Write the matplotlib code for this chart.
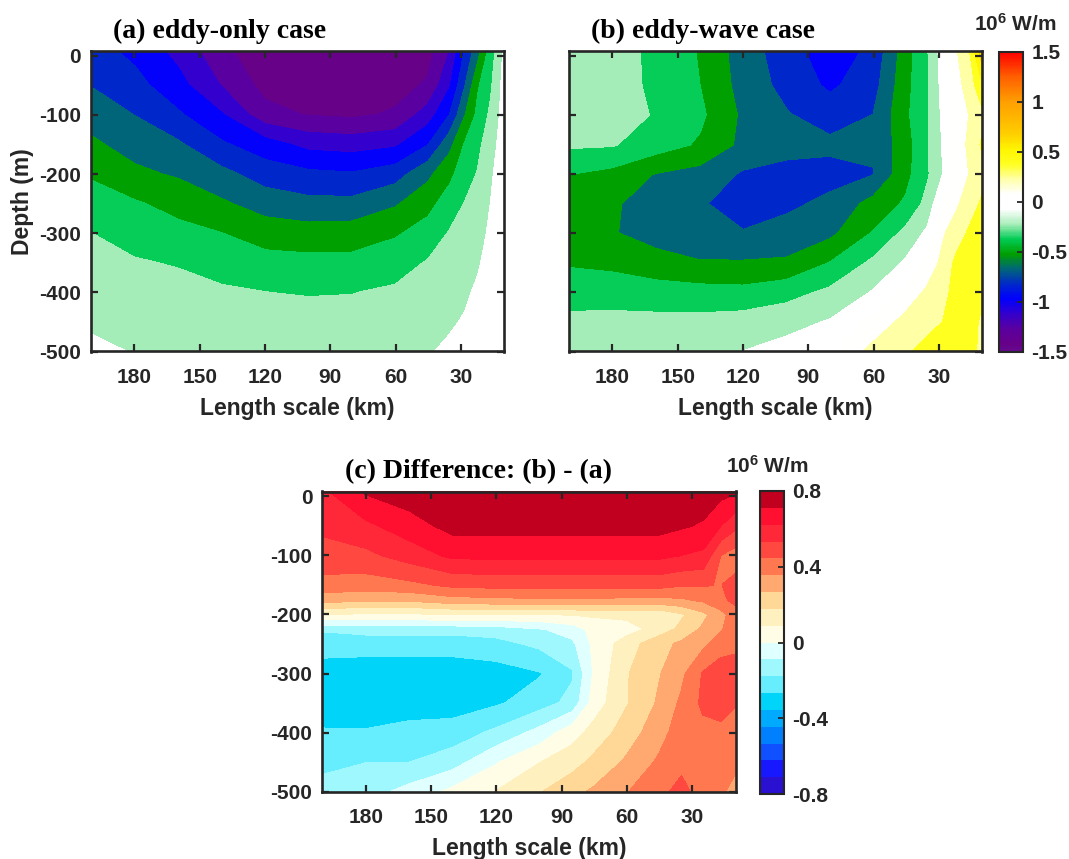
import numpy as np
import matplotlib
matplotlib.use("Agg")
import matplotlib.pyplot as plt
from matplotlib.colors import LinearSegmentedColormap, Normalize
from matplotlib.cm import ScalarMappable

plt.rcParams['font.family'] = ['Liberation Sans', 'DejaVu Sans']
plt.rcParams['font.weight'] = 'bold'
plt.rcParams['axes.labelweight'] = 'bold'
plt.rcParams['axes.unicode_minus'] = False
plt.rcParams['mathtext.fontset'] = 'custom'
plt.rcParams['mathtext.rm'] = 'Liberation Sans:bold'
plt.rcParams['mathtext.bf'] = 'Liberation Sans:bold'
plt.rcParams['mathtext.default'] = 'bf'

# ---- data (units: 10^6 W/m) ----
length_km = [200, 180, 160, 140, 120, 100, 80, 60, 45, 35, 28, 22, 16, 10]
depth_m = [8, -50, -100, -150, -200, -250, -300, -350, -400, -450, -500]

eddy_only = [
    [-0.84, -0.94, -1.10, -1.31, -1.46, -1.49, -1.49, -1.45, -1.41, -1.20, -0.89, -0.66, -0.38, -0.13],
    [-0.757, -0.85, -1.00, -1.21, -1.40, -1.44, -1.44, -1.41, -1.33, -1.07, -0.76, -0.47, -0.32, -0.10],
    [-0.66, -0.754, -0.88, -1.04, -1.30, -1.36, -1.38, -1.33, -1.13, -0.90, -0.61, -0.41, -0.27, -0.09],
    [-0.575, -0.66, -0.73, -0.88, -0.99, -1.10, -1.12, -1.08, -0.91, -0.65, -0.44, -0.34, -0.21, -0.08],
    [-0.47, -0.57, -0.62, -0.71, -0.82, -0.87, -0.89, -0.82, -0.64, -0.49, -0.37, -0.29, -0.17, -0.07],
    [-0.38, -0.435, -0.50, -0.58, -0.67, -0.71, -0.71, -0.62, -0.50, -0.38, -0.295, -0.25, -0.147, -0.06],
    [-0.30, -0.35, -0.41, -0.45, -0.52, -0.54, -0.53, -0.47, -0.39, -0.29, -0.25, -0.20, -0.125, -0.05],
    [-0.255, -0.29, -0.31, -0.36, -0.40, -0.41, -0.41, -0.36, -0.29, -0.24, -0.21, -0.165, -0.10, -0.04],
    [-0.21, -0.24, -0.26, -0.28, -0.30, -0.31, -0.305, -0.28, -0.23, -0.20, -0.17, -0.13, -0.08, -0.03],
    [-0.165, -0.19, -0.22, -0.22, -0.25, -0.25, -0.25, -0.23, -0.19, -0.165, -0.14, -0.10, -0.06, -0.025],
    [-0.13, -0.155, -0.18, -0.18, -0.21, -0.21, -0.21, -0.19, -0.16, -0.13, -0.11, -0.08, -0.05, -0.02],
]

eddy_wave = [
    [-0.20, -0.20, -0.36, -0.46, -0.68, -0.83, -1.00, -0.86, -0.52, -0.31, -0.08, 0.13, 0.27, 0.70],
    [-0.22, -0.22, -0.34, -0.45, -0.66, -0.80, -0.93, -0.81, -0.50, -0.32, -0.10, 0.10, 0.20, 0.42],
    [-0.25, -0.25, -0.31, -0.42, -0.63, -0.74, -0.82, -0.75, -0.48, -0.32, -0.12, 0.08, 0.15, 0.25],
    [-0.28, -0.29, -0.38, -0.47, -0.64, -0.70, -0.72, -0.72, -0.52, -0.31, -0.14, 0.08, 0.17, 0.32],
    [-0.45, -0.50, -0.61, -0.66, -0.77, -0.80, -0.80, -0.76, -0.50, -0.32, -0.15, 0.09, 0.15, 0.25],
    [-0.52, -0.58, -0.68, -0.73, -0.84, -0.78, -0.72, -0.55, -0.43, -0.25, 0.00, 0.12, 0.22, 0.32],
    [-0.54, -0.59, -0.67, -0.72, -0.74, -0.70, -0.64, -0.44, -0.26, -0.12, 0.13, 0.22, 0.32, 0.40],
    [-0.47, -0.49, -0.54, -0.59, -0.59, -0.58, -0.45, -0.27, -0.13, 0.05, 0.19, 0.33, 0.38, 0.42],
    [-0.36, -0.37, -0.39, -0.40, -0.41, -0.36, -0.27, -0.14, 0.05, 0.18, 0.24, 0.36, 0.40, 0.32],
    [-0.27, -0.26, -0.26, -0.26, -0.24, -0.20, -0.14, 0.04, 0.20, 0.26, 0.30, 0.38, 0.35, 0.27],
    [-0.22, -0.21, -0.20, -0.17, -0.15, -0.10, -0.03, 0.20, 0.28, 0.34, 0.35, 0.40, 0.32, 0.28],
]

length_c = [200, 180, 160, 140, 120, 100, 85, 75, 60, 45, 35, 25, 17, 10]
depth_c = [8, -50, -100, -150, -175, -200, -225, -250, -300, -350, -400, -450, -500]

difference = [
    [0.60, 0.72, 0.76, 0.79, 0.79, 0.79, 0.79, 0.79, 0.79, 0.79, 0.78, 0.76, 0.74, 0.72],
    [0.55, 0.60, 0.67, 0.74, 0.74, 0.74, 0.74, 0.74, 0.74, 0.74, 0.72, 0.70, 0.62, 0.55],
    [0.50, 0.51, 0.57, 0.64, 0.64, 0.64, 0.64, 0.64, 0.64, 0.64, 0.62, 0.60, 0.44, 0.40],
    [0.41, 0.40, 0.42, 0.46, 0.47, 0.47, 0.47, 0.47, 0.47, 0.47, 0.45, 0.45, 0.44, 0.47],
    [0.30, 0.28, 0.28, 0.32, 0.33, 0.34, 0.34, 0.34, 0.33, 0.33, 0.34, 0.37, 0.42, 0.47],
    [0.08, 0.07, 0.07, 0.08, 0.08, 0.08, 0.09, 0.10, 0.11, 0.10, 0.16, 0.24, 0.32, 0.40],
    [-0.17, -0.15, -0.15, -0.15, -0.14, -0.10, -0.05, 0.03, 0.05, 0.12, 0.20, 0.28, 0.34, 0.42],
    [-0.23, -0.23, -0.23, -0.23, -0.21, -0.16, -0.11, 0.02, 0.13, 0.24, 0.28, 0.33, 0.40, 0.43],
    [-0.31, -0.32, -0.32, -0.32, -0.31, -0.275, -0.19, 0.01, 0.17, 0.26, 0.33, 0.45, 0.49, 0.47],
    [-0.31, -0.32, -0.31, -0.31, -0.28, -0.22, -0.15, 0.04, 0.17, 0.28, 0.37, 0.46, 0.48, 0.45],
    [-0.26, -0.26, -0.24, -0.23, -0.16, -0.06, 0.05, 0.12, 0.22, 0.32, 0.40, 0.42, 0.42, 0.40],
    [-0.20, -0.18, -0.18, -0.13, -0.01, 0.085, 0.14, 0.20, 0.28, 0.37, 0.42, 0.40, 0.40, 0.38],
    [-0.15, -0.13, -0.06, 0.02, 0.09, 0.17, 0.24, 0.28, 0.35, 0.42, 0.47, 0.40, 0.38, 0.30],
]

x_ticks = [180, 150, 120, 90, 60, 30]
y_ticks = [0, -100, -200, -300, -400, -500]
cb1_ticks = [-1.5, -1, -0.5, 0, 0.5, 1, 1.5]
cb2_ticks = [-0.8, -0.4, 0, 0.4, 0.8]

# ---- colours ----
ink = '#262626'
anchors = [(-1.5, '#650a90'), (-1.425, '#660088'), (-1.275, '#5a00a0'),
           (-1.125, '#3300cc'), (-0.975, '#0000ff'), (-0.825, '#0028c8'),
           (-0.675, '#006677'), (-0.525, '#00a000'), (-0.375, '#00cc55'),
           (-0.225, '#aaeebb'), (-0.075, '#ffffff'), (0.075, '#ffffff'),
           (0.225, '#ffffaa'), (0.375, '#ffff22'), (0.525, '#fff500'),
           (0.675, '#ffd000'), (0.825, '#ffb800'), (1.0, '#ffa000'),
           (1.25, '#ff6000'), (1.5, '#ff0000')]
cmap1 = LinearSegmentedColormap.from_list(
    'ew', [((v + 1.5) / 3.0, c) for v, c in anchors])
norm1 = Normalize(-1.5, 1.5)
levels1 = np.linspace(-1.5, 1.5, 21)

diff_colors = ['#2a10d0', '#1818ff', '#1050ff', '#0080ff', '#00aaff', '#00d4f8',
               '#66eeff', '#a0f8ff', '#e0ffff', '#fffde6', '#fff0c0', '#ffd898',
               '#ffa870', '#ff7850', '#ff4840', '#ff2838', '#ff1030', '#c0001e']
levels2 = np.linspace(-0.8, 0.8, 19)

W, H = 1069, 859
fig = plt.figure(figsize=(W / 100, H / 100), dpi=100)


def box(l, t, r, b):
    return [l / W, 1 - b / H, (r - l) / W, (b - t) / H]


def style(ax, ylabels=True):
    ax.set_xlim(200, 10)
    ax.set_ylim(-500, 8)
    ax.set_xticks(x_ticks)
    ax.set_yticks(y_ticks)
    if not ylabels:
        ax.set_yticklabels([])
    ax.tick_params(direction='in', length=5, width=1.6, top=True, right=True,
                   labelsize=15, colors=ink)
    ax.tick_params(axis='x', pad=12)
    ax.tick_params(axis='y', pad=7)
    for s in ax.spines.values():
        s.set_linewidth(1.9)
        s.set_color(ink)
    ax.set_xlabel('Length scale (km)', fontsize=16.5, color=ink)
    ax.xaxis.set_label_coords(0.5, -0.15)


def title(ax, txt):
    ax.text(0.054, 1.043, txt, transform=ax.transAxes, ha='left', va='baseline',
            fontfamily='Liberation Serif', fontsize=20, fontweight='bold', color='black')


ax1 = fig.add_axes(box(90.8, 51, 504.4, 351.5))
cs = ax1.contourf(length_km, depth_m, np.array(eddy_only), levels=levels1,
                  cmap=cmap1, norm=norm1)
cs.set_edgecolor('face')
style(ax1)
ax1.set_ylabel('Depth (m)', fontsize=16.5, color=ink)
ax1.yaxis.set_label_coords(-0.137, 0.5)
title(ax1, '(a) eddy-only case')

ax2 = fig.add_axes(box(568.8, 51, 982.4, 351.5))
cs = ax2.contourf(length_km, depth_m, np.array(eddy_wave), levels=levels1,
                  cmap=cmap1, norm=norm1)
cs.set_edgecolor('face')
style(ax2, ylabels=False)
title(ax2, '(b) eddy-wave case')

cax1 = fig.add_axes(box(999, 51.7, 1023, 351.7))
cb1 = fig.colorbar(ScalarMappable(norm=norm1, cmap=cmap1), cax=cax1, ticks=cb1_ticks)
cb1.ax.set_yticklabels(['-1.5', '-1', '-0.5', '0', '0.5', '1', '1.5'])
fig.text(1015 / W, 1 - 31 / H, r'10$^6$ W/m', ha='center', va='baseline',
         fontsize=15, color=ink)

ax3 = fig.add_axes(box(322.2, 491.5, 735.8, 791.7))
cs3 = ax3.contourf(length_c, depth_c, np.array(difference), levels=levels2,
                   colors=diff_colors)
cs3.set_edgecolor('face')
style(ax3)
title(ax3, '(c) Difference: (b) - (a)')

cax2 = fig.add_axes(box(760, 491, 784, 794))
cb2 = fig.colorbar(cs3, cax=cax2, ticks=cb2_ticks)
cb2.ax.set_yticklabels(['-0.8', '-0.4', '0', '0.4', '0.8'])
fig.text(767 / W, 1 - 473 / H, r'10$^6$ W/m', ha='center', va='baseline',
         fontsize=15, color=ink)

for cb in (cb1, cb2):
    cb.outline.set_linewidth(1.5)
    cb.outline.set_edgecolor(ink)
    cb.ax.tick_params(direction='in', length=4, width=1.3, labelsize=15,
                      colors=ink, pad=6)

fig.savefig('out.png', dpi=100)
